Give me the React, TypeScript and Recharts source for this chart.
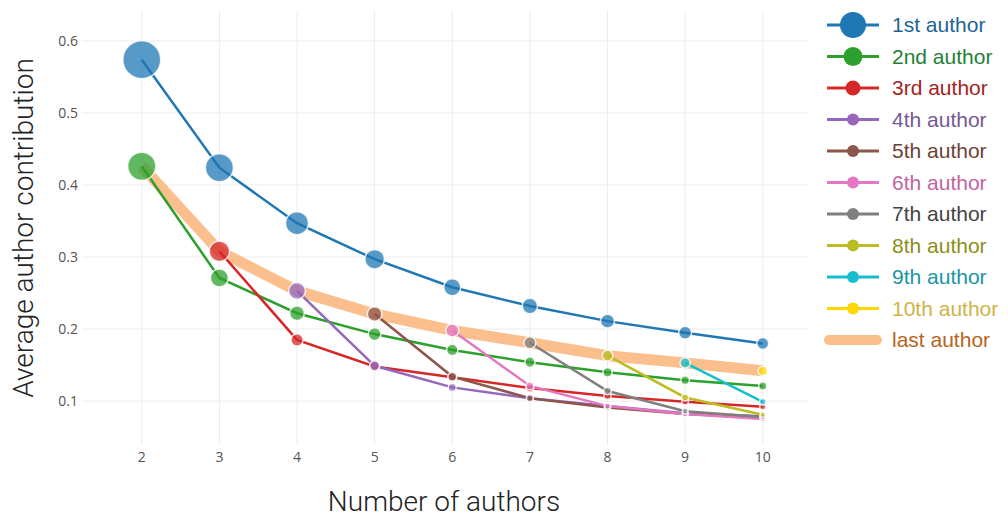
import { LineChart, Line, XAxis, YAxis, CartesianGrid } from "recharts";

// number of authors on the paper
const authorCounts = [2, 3, 4, 5, 6, 7, 8, 9, 10];

// average contribution by author position (null = position does not exist)
const first = [0.574, 0.424, 0.347, 0.297, 0.258, 0.232, 0.211, 0.195, 0.18];
const second = [0.426, 0.271, 0.222, 0.193, 0.171, 0.154, 0.14, 0.129, 0.121];
const third = [null, 0.308, 0.185, 0.148, 0.133, 0.118, 0.107, 0.099, 0.092];
const fourth = [null, null, 0.253, 0.149, 0.119, 0.104, 0.093, 0.083, 0.079];
const fifth = [null, null, null, 0.221, 0.134, 0.104, 0.091, 0.082, 0.077];
const sixth = [null, null, null, null, 0.198, 0.121, 0.093, 0.082, 0.075];
const seventh = [null, null, null, null, null, 0.181, 0.114, 0.086, 0.078];
const eighth = [null, null, null, null, null, null, 0.163, 0.105, 0.081];
const ninth = [null, null, null, null, null, null, null, 0.153, 0.099];
const tenth = [null, null, null, null, null, null, null, null, 0.142];
const lastAuthor = [0.426, 0.308, 0.253, 0.221, 0.198, 0.181, 0.163, 0.153, 0.142];

const yTicks = [0.1, 0.2, 0.3, 0.4, 0.5, 0.6];

const positionNames = [
  "1st author", "2nd author", "3rd author", "4th author", "5th author",
  "6th author", "7th author", "8th author", "9th author", "10th author",
];
const positionValues = [first, second, third, fourth, fifth, sixth, seventh, eighth, ninth, tenth];

const colors = [
  "#1f77b4", "#2ca02c", "#d62728", "#9467bd", "#8c564b",
  "#e377c2", "#7f7f7f", "#bcbd22", "#17becf", "#ffd700",
];
const textColors = [
  "#1d6496", "#237f37", "#a52323", "#765896", "#6b4238",
  "#c0659f", "#444444", "#8d8e1a", "#1a95a3", "#cdb445",
];
const lastColor = "#fbbf8e";
const lastTextColor = "#b8631c";
const legendDot = [13, 9.5, 7.5, 6, 6, 6, 6, 6, 6, 6];

const rows = authorCounts.map((n, i) => {
  const row: Record<string, number | null> = { n, last: lastAuthor[i] };
  positionValues.forEach((vals, k) => {
    row[`p${k}`] = vals[i];
  });
  return row;
});

const makeDot = (key: string, color: string) => (props: any) => {
  const { cx, cy, payload, index } = props;
  const v = payload ? payload[key] : null;
  if (v == null || cx == null || cy == null) return <g key={`${key}-${index}`} />;
  return (
    <circle
      key={`${key}-${index}`}
      cx={cx}
      cy={cy}
      r={v * 33}
      fill={color}
      fillOpacity={0.75}
      stroke="#fff"
      strokeOpacity={0.8}
      strokeWidth={1.5}
    />
  );
};

const tickStyle = { fontSize: 14, fill: "#555", fontFamily: "Open Sans" };
const titleFont = "Roboto, Liberation Sans, Arial, sans-serif";
const legendFont = "Liberation Sans, Arial, sans-serif";

// plot box in pixels, grid lines only at tick values
const plotTop = 10;
const plotBottom = 445;
const plotLeft = 82;
const plotRight = 807;
const xMin = 1.23, xMax = 10.57, yMin = 0.039, yMax = 0.643;

function LegendBox() {
  const rowY = (i: number) => 25 + i * 31.5;
  return (
    <svg width={190} height={360} style={{ position: "absolute", left: 818, top: 0 }}>
      {positionNames.map((name, i) => (
        <g key={name}>
          <line x1={9} x2={61} y1={rowY(i)} y2={rowY(i)} stroke={colors[i]} strokeWidth={3} />
          <circle cx={35} cy={rowY(i)} r={legendDot[i]} fill={colors[i]} />
          <text x={74} y={rowY(i) + 7} fontSize={21} fill={textColors[i]} fontFamily={legendFont}>
            {name}
          </text>
        </g>
      ))}
      <line x1={11} x2={59} y1={rowY(10)} y2={rowY(10)} stroke={lastColor} strokeWidth={10} strokeLinecap="round" />
      <text x={74} y={rowY(10) + 7} fontSize={21} fill={lastTextColor} fontFamily={legendFont}>
        last author
      </text>
    </svg>
  );
}

export default function App() {
  return (
    <div style={{ position: "absolute", left: 0, top: 0, width: 1008, height: 517, background: "#fff" }}>
      <LineChart
        width={1008}
        height={517}
        data={rows}
        margin={{ top: plotTop, right: 1008 - plotRight, bottom: 517 - plotBottom - 30, left: plotLeft - 60 }}
      >
        <CartesianGrid
          stroke="#ececec"
          strokeWidth={1}
          horizontalPoints={yTicks.map(
            (t) => plotTop + ((yMax - t) / (yMax - yMin)) * (plotBottom - plotTop)
          )}
          verticalPoints={authorCounts.map(
            (n) => plotLeft + ((n - xMin) / (xMax - xMin)) * (plotRight - plotLeft)
          )}
        />
        <XAxis
          type="number"
          dataKey="n"
          domain={[xMin, xMax]}
          ticks={authorCounts}
          allowDataOverflow
          axisLine={false}
          tickLine={false}
          tickSize={5}
          tick={tickStyle}
          height={30}
        />
        <YAxis
          type="number"
          domain={[yMin, yMax]}
          ticks={yTicks}
          allowDataOverflow
          axisLine={false}
          tickLine={false}
          tickSize={2}
          tickMargin={2}
          tick={tickStyle}
          width={60}
        />
        <Line
          dataKey="last"
          stroke={lastColor}
          strokeWidth={11}
          dot={false}
          activeDot={false}
          isAnimationActive={false}
          strokeLinejoin="round"
        />
        {positionNames.map((name, k) => (
          <Line
            key={name}
            dataKey={`p${k}`}
            name={name}
            stroke={colors[k]}
            strokeWidth={2.5}
            dot={makeDot(`p${k}`, colors[k])}
            activeDot={false}
            isAnimationActive={false}
          />
        ))}
      </LineChart>
      <svg width={1008} height={517} style={{ position: "absolute", left: 0, top: 0, pointerEvents: "none" }}>
        <text
          x={33}
          y={228}
          transform="rotate(-90 33 228)"
          textAnchor="middle"
          fontSize={28}
          fontWeight={300}
          fill="#222"
          fontFamily={titleFont}
        >
          Average author contribution
        </text>
        <text x={444} y={511} textAnchor="middle" fontSize={28} fontWeight={300} fill="#222" fontFamily={titleFont}>
          Number of authors
        </text>
      </svg>
      <LegendBox />
    </div>
  );
}
